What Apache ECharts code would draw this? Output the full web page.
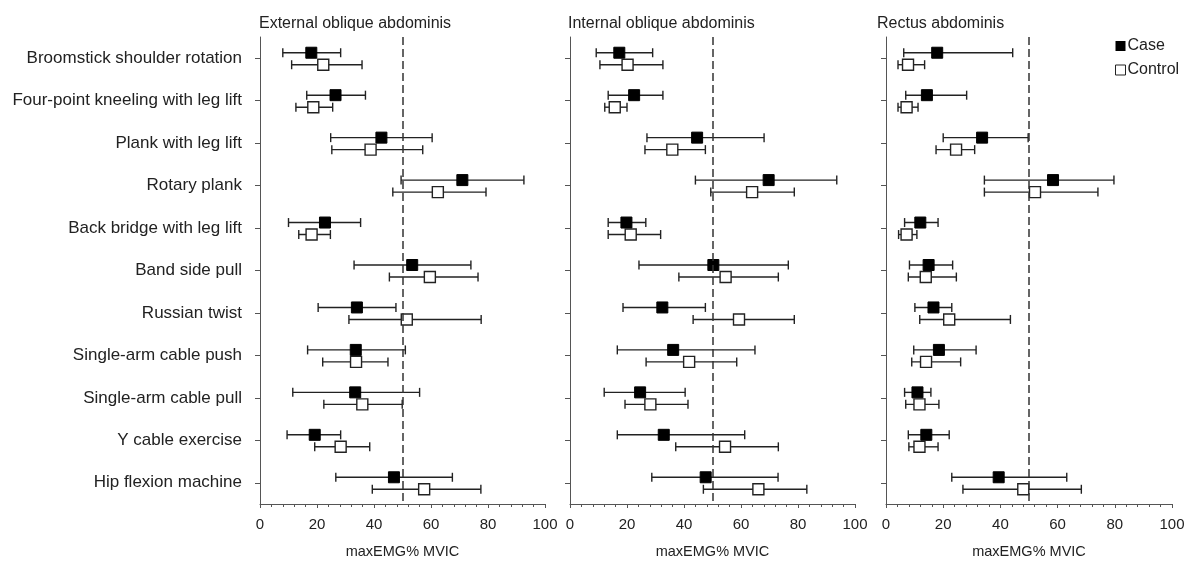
<!DOCTYPE html>
<html>
<head>
<meta charset="utf-8">
<script src="https://cdn.jsdelivr.net/npm/echarts@6/dist/echarts.min.js"></script>
<style>
  html, body { margin: 0; padding: 0; background: #fff; }
  #chart { width: 1197px; height: 570px; }
</style>
</head>
<body>
<div id="chart"></div>
<script>
const categories = [
  'Broomstick shoulder rotation', 'Four-point kneeling with leg lift', 'Plank with leg lift',
  'Rotary plank', 'Back bridge with leg lift', 'Band side pull', 'Russian twist',
  'Single-arm cable push', 'Single-arm cable pull', 'Y cable exercise', 'Hip flexion machine'
];
const muscles = ['External oblique abdominis', 'Internal oblique abdominis', 'Rectus abdominis'];
const xTicks = [0, 20, 40, 60, 80, 100];

// [mean, low, high]
const extCase = [[18, 8, 28.3], [26.5, 16.4, 37], [42.6, 24.8, 60.4], [71, 49.5, 92.6], [22.8, 10, 35.3],
  [53.4, 33, 74], [34, 20.4, 47.7], [33.6, 16.7, 51], [33.4, 11.5, 56], [19.2, 9.5, 28.3], [47, 26.6, 67.5]];
const extCtrl = [[22.2, 11.1, 35.8], [18.7, 12.6, 25.5], [38.8, 25.2, 57.1], [62.4, 46.6, 79.3], [18.1, 13.6, 24.7],
  [59.6, 45.4, 76.5], [51.5, 31.2, 77.6], [33.7, 22, 44.9], [35.9, 22.4, 49.9], [28.3, 19.2, 38.5], [57.6, 39.4, 77.5]];
const intCase = [[17.3, 9.2, 29], [22.5, 13.4, 32.6], [44.6, 27, 68.1], [69.7, 44, 93.6], [19.8, 13.4, 26.6],
  [50.3, 24.2, 76.6], [32.4, 18.6, 47.5], [36.2, 16.6, 64.9], [24.6, 12, 40.4], [32.9, 16.6, 61.3], [47.6, 28.7, 73]];
const intCtrl = [[20.2, 10.5, 32.6], [15.7, 12.2, 20], [35.9, 26.3, 47.5], [63.9, 49.4, 78.7], [21.3, 13.4, 31.8],
  [54.6, 38.2, 73.1], [59.3, 43.2, 78.7], [41.8, 26.7, 58.5], [28.2, 19.3, 41.4], [54.4, 37.1, 73.1], [66.1, 46.8, 83.1]];
const recCase = [[17.9, 6.2, 44.3], [14.3, 6.9, 28.2], [33.6, 20, 49.7], [58.4, 34.4, 79.7], [12, 6.5, 18.2],
  [14.9, 8.2, 23.3], [16.6, 10.1, 23], [18.5, 9.7, 31.5], [11, 6.5, 15.7], [14.1, 7.8, 22.1], [39.4, 23, 63.2]];
const recCtrl = [[7.7, 4.2, 13.5], [7.2, 4.2, 11.2], [24.5, 17.5, 31], [52.1, 34.4, 74.1], [7.2, 4.4, 10.8],
  [13.9, 7.8, 24.6], [22.1, 11.8, 43.5], [14, 9, 26.1], [11.7, 6.9, 18.5], [11.7, 8, 18.2], [48, 26.9, 68.3]];
const refLine = 50;

const panels = [[extCase, extCtrl], [intCase, intCtrl], [recCase, recCtrl]];
const gridLeft = [260, 570, 886];
const gridWidth = [285, 285, 286];
const titleLeft = [254, 563, 872];
const font = 'Liberation Sans, Arial, sans-serif';
const txt = '#222';
const axisCol = '#555';

const chart = echarts.init(document.getElementById('chart'));

function errRender (dy, filled) {
  return function (params, api) {
    const i = api.value(3);
    const c = api.coord([api.value(0), i]);
    const l = api.coord([api.value(1), i]);
    const h = api.coord([api.value(2), i]);
    const y = c[1] + dy;
    const ls = { stroke: '#222', lineWidth: 1.4 };
    return {
      type: 'group',
      children: [
        { type: 'line', shape: { x1: l[0], y1: y, x2: h[0], y2: y }, style: ls },
        { type: 'line', shape: { x1: l[0], y1: y - 4.5, x2: l[0], y2: y + 4.5 }, style: ls },
        { type: 'line', shape: { x1: h[0], y1: y - 4.5, x2: h[0], y2: y + 4.5 }, style: ls },
        {
          type: 'rect',
          shape: { x: c[0] - 5.5, y: y - 5.5, width: 11, height: 11 },
          style: filled ? { fill: '#000', stroke: '#000', lineWidth: 1 } : { fill: '#fff', stroke: '#222', lineWidth: 1.4 }
        }
      ]
    };
  };
}

const grid = [], xAxis = [], yAxis = [], series = [], title = [];
panels.forEach((p, k) => {
  grid.push({ left: gridLeft[k], width: gridWidth[k], top: 37, bottom: 66 });
  title.push({
    text: muscles[k], left: titleLeft[k], top: 11,
    textStyle: { fontFamily: font, fontSize: 16, fontWeight: 'normal', color: txt }
  });
  xAxis.push({
    gridIndex: k, type: 'value', min: xTicks[0], max: xTicks[xTicks.length - 1], interval: 20,
    name: 'maxEMG% MVIC', nameLocation: 'middle', nameGap: 40,
    nameTextStyle: { fontFamily: font, fontSize: 14.5, color: txt },
    axisLine: { show: true, lineStyle: { color: axisCol, width: 1 } },
    axisTick: { show: true, length: 4, lineStyle: { color: axisCol } },
    minorTick: { show: true, splitNumber: 5, length: 3, lineStyle: { color: axisCol } },
    splitLine: { show: false },
    axisLabel: { fontFamily: font, fontSize: 15, color: txt, margin: 13 }
  });
  yAxis.push({
    gridIndex: k, type: 'category', data: categories, inverse: true, offset: 5,
    axisLine: { show: true, lineStyle: { color: axisCol, width: 1 } },
    axisTick: { show: true, alignWithLabel: true, length: 5, lineStyle: { color: axisCol } },
    splitLine: { show: false },
    axisLabel: { show: k === 0, fontFamily: font, fontSize: 17, color: txt, margin: 13 }
  });
  series.push({
    type: 'line', xAxisIndex: k, yAxisIndex: k, data: [], z: 1, silent: true,
    markLine: {
      symbol: 'none', silent: true, label: { show: false },
      lineStyle: { type: [8, 4], color: '#333', width: 1.5 },
      data: [{ xAxis: refLine }]
    }
  });
  series.push({
    name: 'Case', type: 'custom', xAxisIndex: k, yAxisIndex: k, z: 3,
    renderItem: errRender(-5.5, true),
    encode: { x: [0, 1, 2], y: 3 },
    data: p[0].map((d, i) => [d[0], d[1], d[2], i])
  });
  series.push({
    name: 'Control', type: 'custom', xAxisIndex: k, yAxisIndex: k, z: 3,
    renderItem: errRender(6.5, false),
    encode: { x: [0, 1, 2], y: 3 },
    data: p[1].map((d, i) => [d[0], d[1], d[2], i])
  });
});

chart.setOption({
  animation: false,
  backgroundColor: '#fff',
  title: title,
  legend: {
    orient: 'vertical', left: 1110, top: 33, itemWidth: 10, itemHeight: 10, itemGap: 8,
    textStyle: { fontFamily: font, fontSize: 16, color: txt, padding: [0, 0, 0, -3] },
    data: [
      { name: 'Case', icon: 'rect', itemStyle: { color: '#000', borderWidth: 0 } },
      { name: 'Control', icon: 'rect', itemStyle: { color: '#fff', borderColor: '#222', borderWidth: 1 } }
    ]
  },
  grid: grid,
  xAxis: xAxis,
  yAxis: yAxis,
  series: series
});
</script>
</body>
</html>
